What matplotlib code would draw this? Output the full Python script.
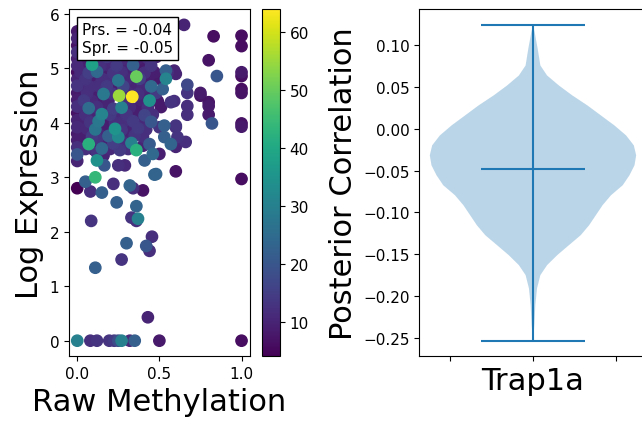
import numpy as np
import matplotlib
matplotlib.use("Agg")
import matplotlib.pyplot as plt

# ---- scatter data: raw methylation vs log expression, coloured by depth ----
raw_meth = [
    # x = 0 column
    0.0, 0.0, 0.0, 0.0, 0.0, 0.0, 0.0, 0.0, 0.0, 0.0, 0.0,
    0.0, 0.0, 0.0, 0.0, 0.0, 0.0, 0.0, 0.0, 0.0, 0.0, 0.0,
    # dense cluster rows
    0.04, 0.09, 0.14, 0.19, 0.24, 0.29, 0.34, 0.39, 0.45,
    0.02, 0.07, 0.12, 0.17, 0.22, 0.27, 0.31, 0.41, 0.47,
    0.05, 0.10, 0.15, 0.20, 0.25, 0.30, 0.38, 0.43,
    0.03, 0.08, 0.13, 0.18, 0.23, 0.28, 0.33, 0.40, 0.45,
    0.06, 0.11, 0.16, 0.21, 0.31, 0.37, 0.42, 0.48,
    0.04, 0.09, 0.14, 0.19, 0.29, 0.39, 0.44, 0.49,
    0.02, 0.07, 0.12, 0.17, 0.22, 0.27, 0.32, 0.37, 0.43,
    0.05, 0.10, 0.15, 0.20, 0.25, 0.30, 0.35, 0.41, 0.46,
    0.03, 0.08, 0.13, 0.18, 0.23, 0.28, 0.34, 0.39, 0.45,
    0.06, 0.11, 0.16, 0.23, 0.27, 0.32, 0.37, 0.42,
    0.04, 0.09, 0.14, 0.19, 0.25, 0.30, 0.35, 0.40,
    0.12, 0.17, 0.22, 0.28, 0.33, 0.44,
    0.05, 0.10, 0.15, 0.20, 0.26, 0.31,
    0.335, 0.255, 0.36,
    # under the text box
    0.03, 0.08, 0.13, 0.18, 0.23, 0.28, 0.33, 0.38, 0.43, 0.48,
    # y 3.0 - 3.7
    0.07, 0.12, 0.16, 0.12, 0.165, 0.25, 0.29, 0.36, 0.40, 0.41, 0.46, 0.47, 0.11,
    # lower scatter
    0.05, 0.08, 0.15, 0.22, 0.32, 0.34, 0.40, 0.24, 0.36, 0.085, 0.33,
    0.37, 0.36, 0.455, 0.30, 0.42, 0.44, 0.27, 0.11, 0.43,
    # zero expression
    0.08, 0.12, 0.195, 0.225, 0.25, 0.27, 0.32, 0.35, 0.50, 1.0,
    # right sparse
    0.65, 0.83, 1.0, 1.0, 0.80, 0.85, 1.0, 1.0, 1.0, 1.0, 0.75, 0.75,
    0.80, 0.80, 0.80, 0.82, 1.0, 1.0, 0.67, 0.67, 0.67, 0.67, 0.59, 0.57,
    0.51, 0.60, 0.55, 0.50, 0.54, 0.52, 0.60, 0.53, 0.50, 0.60,
    0.53, 0.57, 0.61, 0.66, 0.60, 0.50, 0.48, 0.60, 1.0, 0.54, 0.59,
]
log_expr = [
    5.68, 5.55, 5.42, 5.30, 5.18, 5.05, 4.93, 4.80, 4.68, 4.55, 4.42,
    4.30, 4.18, 4.05, 3.92, 3.80, 3.68, 3.55, 3.42, 3.30, 2.80, 0.0,
    5.05, 5.07, 5.04, 5.06, 5.05, 5.03, 5.06, 5.04, 5.05,
    4.93, 4.92, 4.94, 4.93, 4.91, 4.93, 4.94, 4.92, 4.93,
    4.80, 4.79, 4.81, 4.80, 4.78, 4.80, 4.81, 4.79,
    4.67, 4.66, 4.68, 4.67, 4.65, 4.67, 4.68, 4.66, 4.67,
    4.54, 4.55, 4.53, 4.54, 4.55, 4.53, 4.54, 4.55,
    4.41, 4.40, 4.42, 4.41, 4.40, 4.42, 4.41, 4.40,
    4.28, 4.27, 4.29, 4.28, 4.26, 4.28, 4.29, 4.27, 4.28,
    4.15, 4.14, 4.16, 4.15, 4.13, 4.15, 4.16, 4.14, 4.15,
    4.02, 4.01, 4.03, 4.02, 4.00, 4.02, 4.03, 4.01, 4.02,
    3.89, 3.88, 3.90, 3.89, 3.87, 3.89, 3.90, 3.88,
    3.76, 3.75, 3.77, 3.76, 3.74, 3.76, 3.77, 3.75,
    3.70, 3.63, 3.62, 3.64, 3.63, 3.61,
    3.52, 3.51, 3.53, 3.52, 3.50, 3.52,
    4.48, 4.50, 4.85,
    5.20, 5.22, 5.19, 5.21, 5.20, 5.18, 5.22, 5.20, 5.19, 5.21,
    3.61, 3.45, 3.40, 3.31, 3.22, 3.22, 3.22, 3.50, 3.58, 3.31, 3.43, 3.05, 3.00,
    2.92, 2.74, 2.72, 2.88, 2.85, 2.80, 2.76, 2.54, 2.47, 2.20, 2.26,
    2.24, 2.20, 1.91, 1.79, 1.74, 1.65, 1.49, 1.34, 0.43,
    0.0, 0.0, 0.0, 0.0, 0.0, 0.0, 0.0, 0.0, 0.0, 0.0,
    5.80, 5.59, 5.60, 5.41, 5.15, 4.86, 4.93, 4.86, 4.62, 4.55, 4.55, 4.50,
    4.38, 4.31, 4.15, 3.99, 3.99, 3.93, 4.70, 4.55, 4.31, 4.15, 4.40, 4.38,
    4.29, 4.90, 4.93, 4.81, 4.81, 4.62, 3.95, 3.95, 3.92, 3.92,
    3.74, 3.61, 3.74, 3.65, 3.56, 3.43, 3.06, 3.11, 2.97, 4.96, 4.96,
]
depth = [
    8, 10, 7, 12, 9, 11, 6, 10, 13, 8, 9,
    12, 7, 10, 11, 8, 9, 12, 20, 10, 4, 30,
    9, 38, 12, 11, 14, 10, 22, 8, 13,
    11, 15, 24, 9, 13, 12, 10, 12, 9,
    13, 9, 12, 12, 27, 11, 15, 9,
    10, 12, 12, 14, 9, 16, 10, 11, 24,
    12, 9, 28, 13, 11, 12, 10, 14,
    14, 11, 9, 10, 12, 10, 34, 8,
    9, 25, 12, 10, 15, 30, 11, 9, 12,
    12, 10, 31, 14, 11, 13, 9, 16, 12,
    10, 13, 28, 9, 12, 12, 14, 11, 20,
    11, 27, 9, 35, 13, 10, 14, 12,
    9, 14, 11, 22, 32, 10, 13, 12,
    13, 10, 15, 12, 30, 21,
    12, 9, 24, 11, 14, 12,
    64, 55, 50,
    9, 12, 10, 14, 8, 11, 13, 9, 12, 10,
    42, 13, 10, 34, 20, 12, 11, 42, 10, 22, 24, 23, 44,
    22, 12, 22, 12, 23, 12, 7, 22, 23, 13, 13,
    30, 12, 12, 22, 20, 12, 13, 22, 10,
    12, 13, 13, 14, 18, 30, 11, 22, 8, 6,
    10, 6, 6, 6, 7, 20, 8, 6, 6, 7, 8, 7,
    7, 8, 8, 20, 7, 8, 17, 13, 12, 12, 12, 13,
    8, 10, 12, 8, 31, 22, 13, 22, 13, 12,
    22, 23, 13, 12, 10, 9, 23, 7, 6, 22, 10,
]

# ---- violin outline for posterior correlation (value, half width) ----
violin_coords = [0.1233, 0.1154, 0.0955, 0.0756, 0.0636, 0.0517, 0.0398,
                 0.0278, 0.0159, 0.0040, -0.0080, -0.0199, -0.0318, -0.0438,
                 -0.0557, -0.0676, -0.0796, -0.0915, -0.1034, -0.1154,
                 -0.1273, -0.1392, -0.1512, -0.1631, -0.1750, -0.1909,
                 -0.2108, -0.2347, -0.2526]
violin_dens = [0, 5, 14, 22, 42, 77, 117, 162, 202, 242, 277, 300, 307, 302,
               287, 267, 232, 207, 187, 167, 142, 107, 72, 42, 22, 12, 7, 4, 0]
corr_center = -0.0477
corr_min = -0.2534
corr_max = 0.1241
gene = "Trap1a"

plt.rcParams["xtick.labelsize"] = 11
plt.rcParams["ytick.labelsize"] = 11

fig = plt.figure(figsize=(6.42, 4.27), dpi=100)
ax1 = fig.add_axes([0.1075, 0.1628, 0.2815, 0.8136])
cax = fig.add_axes([0.4076, 0.1628, 0.0285, 0.8136])
ax2 = fig.add_axes([0.6534, 0.1628, 0.3536, 0.8136])

x = np.array(raw_meth)
y = np.array(log_expr)
c = np.array(depth)
order = np.argsort(c, kind="stable")
sc = ax1.scatter(x[order], y[order], c=c[order], cmap="viridis", s=66,
                 edgecolors="face")
fig.colorbar(sc, cax=cax)
ax1.set_xlabel("Raw Methylation", fontsize=22)
ax1.set_ylabel("Log Expression", fontsize=22)
ax1.set_xticks([0.0, 0.5, 1.0])
ax1.text(0.072, 0.962, "Prs. = -0.04\nSpr. = -0.05", transform=ax1.transAxes,
         fontsize=11, va="top", ha="left", zorder=5,
         bbox=dict(boxstyle="square,pad=0.35", fc="white", ec="black"))

stats = [dict(coords=np.array(violin_coords), vals=np.array(violin_dens, float),
              mean=corr_center, median=corr_center, min=corr_min, max=corr_max)]
ax2.violin(stats, positions=[1], widths=0.5, showmedians=True)
ax2.set_xticks([0.8, 1.0, 1.2])
ax2.set_xticklabels(["", gene, ""], fontsize=22)
ax2.set_ylabel("Posterior Correlation", fontsize=22)

fig.savefig("out.png", dpi=100)
